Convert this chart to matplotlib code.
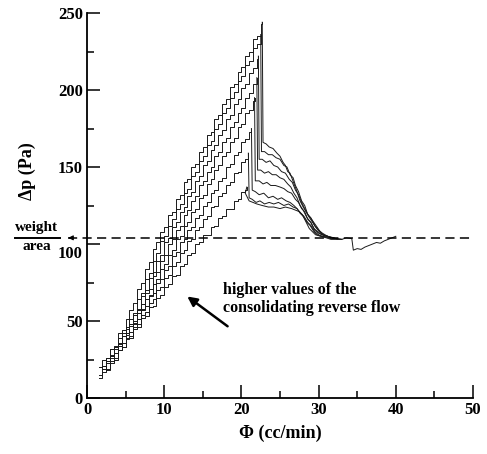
import matplotlib
matplotlib.use("Agg")
import matplotlib.pyplot as plt
from matplotlib.lines import Line2D
from matplotlib.ticker import MultipleLocator

plt.rcParams['font.family'] = ['Liberation Serif', 'DejaVu Serif']
plt.rcParams['font.weight'] = 'bold'

# ---- common flow-rate sampling of the rising branches (cc/min) ----
phi_grid = [1.5, 2.0, 2.5, 3.0, 3.5, 4.0, 4.5, 5.0, 5.5, 6.0, 6.5, 7.0, 7.5, 8.0, 8.5, 9.0,
            9.5, 10.0, 10.5, 11.0, 11.5, 12.0, 12.5, 13.0, 13.5, 14.0, 14.5, 15.0, 15.5, 16.0,
            16.5, 17.0, 17.5, 18.0, 18.5, 19.0, 19.5, 20.0, 20.5, 21.0, 21.5, 22.0, 22.5]

# ---- rising (staircase) branches: start flow and pressure values (Pa) ----
rise_A_x0 = 1.5
rise_A_y = [15, 21, 24, 32, 34, 42, 44, 51, 57, 62, 71, 75, 84, 88, 97, 101, 108, 111, 119, 121, 129, 132,
            140, 142, 150, 152, 160, 163, 171, 173, 181, 184, 191, 194, 202, 204, 212, 215, 222, 225, 233, 235, 243]
rise_B_x0 = 2.0
rise_B_y = [19, 24, 27, 33, 36, 42, 45, 51, 55, 64, 68, 77, 81, 89, 94, 102, 105, 112, 116, 123, 126,
            133, 136, 144, 147, 154, 157, 164, 167, 175, 178, 185, 188, 195, 199, 206, 209, 216, 219, 227, 230, 236]
rise_C_x0 = 1.5
rise_C_y = [20, 25, 26, 32, 33, 39, 40, 46, 48, 54, 58, 66, 70, 78, 82, 89, 93, 101, 104, 111, 114,
            121, 124, 131, 134, 141, 144, 151, 154, 161, 164, 171, 174, 181, 184, 191, 194, 201, 204, 211, 214, 220]
rise_D_x0 = 2.0
rise_D_y = [19, 24, 26, 32, 34, 40, 42, 48, 50, 57, 61, 68, 71, 79, 82, 89, 93, 100, 103, 109,
            112, 119, 122, 128, 131, 138, 141, 147, 150, 157, 160, 166, 169, 176, 179, 185, 188, 195, 198, 204]
rise_E_x0 = 2.0
rise_E_y = [21, 26, 27, 33, 34, 40, 41, 47, 48, 55, 58, 64, 67, 74, 77, 84, 87, 93, 96, 103,
            105, 112, 114, 121, 123, 130, 132, 139, 142, 148, 151, 157, 160, 166, 169, 176, 178, 185, 187, 193]
rise_F_x0 = 2.5
rise_F_y = [23, 28, 29, 35, 36, 42, 43, 49, 51, 57, 60, 66, 68, 75, 77, 83, 86, 92, 95,
            101, 103, 109, 111, 117, 119, 125, 127, 133, 135, 141, 143, 150, 152, 158, 160, 166, 168, 173]
rise_G_x0 = 2.5
rise_G_y = [18, 23, 25, 31, 33, 39, 40, 46, 48, 54, 56, 62, 64, 70, 72, 78, 80, 86, 88,
            94, 96, 102, 103, 109, 111, 116, 118, 124, 125, 131, 133, 138, 140, 146, 147, 153, 155]
rise_H_x0 = 1.5
rise_H_y = [13, 17, 19, 24, 26, 31, 33, 38, 39, 45, 46, 52, 53, 59, 60, 65, 67, 72, 74, 79,
            80, 86, 87, 93, 94, 100, 101, 106, 106, 111, 112, 117, 118, 123, 123, 128, 129, 134, 135]

# ---- peak, sudden drop and descending branches ----
fall_A_x = [22.7, 22.8, 23.2, 23.6, 24.1, 24.6, 25.0, 25.4, 25.7, 26.0, 26.3, 26.6, 26.9, 27.2, 27.6, 28.0, 28.5, 29.1, 29.8, 30.2, 30.6, 31.5]
fall_A_y = [244, 166, 165, 163, 162, 159, 157, 153, 151, 147, 146, 142, 138, 134, 128, 124, 120, 116, 111, 108, 106, 104]
fall_B_x = [22.5, 22.6, 23.0, 23.5, 24.0, 24.5, 25.0, 25.5, 25.9, 26.3, 26.7, 27.0, 27.4, 27.8, 28.2, 28.6, 29.0, 29.5, 30.0, 30.5, 31.5]
fall_B_y = [236, 160, 160, 158, 158, 156, 155, 151, 150, 145, 143, 138, 134, 128, 125, 119, 117, 112, 109, 107, 104]
fall_C_x = [22.2, 22.3, 22.7, 23.2, 23.7, 24.2, 24.7, 25.2, 25.7, 26.2, 26.6, 27.0, 27.4, 27.8, 28.2, 28.7, 29.1, 29.6, 30.1, 30.6, 32.0]
fall_C_y = [222, 155, 155, 153, 154, 151, 150, 147, 146, 142, 140, 135, 132, 127, 123, 118, 115, 111, 108, 106, 103.5]
fall_D_x = [22.0, 22.1, 22.5, 23.0, 23.5, 24.0, 24.5, 25.0, 25.5, 26.0, 26.4, 26.8, 27.2, 27.6, 28.0, 28.5, 29.0, 29.4, 29.9, 30.4, 32.0]
fall_D_y = [208, 148, 148, 146, 147, 145, 145, 143, 142, 139, 137, 133, 130, 125, 122, 117, 114, 110, 108, 106, 104]
fall_E_x = [21.7, 21.8, 22.3, 22.8, 23.3, 23.8, 24.4, 25.0, 25.5, 26.0, 26.5, 27.0, 27.4, 27.8, 28.2, 28.6, 29.0, 29.5, 30.0, 30.5, 32.5]
fall_E_y = [195, 141, 141, 139, 140, 138, 138, 137, 136, 134, 133, 129, 127, 123, 121, 116, 114, 109, 107, 106, 103]
fall_F_x = [21.3, 21.4, 21.8, 22.3, 22.9, 23.5, 24.1, 24.7, 25.2, 25.8, 26.3, 26.8, 27.2, 27.7, 28.1, 28.6, 29.0, 29.5, 30.0, 30.5, 33.0]
fall_F_y = [175, 135, 134, 132, 133, 130, 131, 129, 130, 128, 127, 125, 123, 120, 118, 114, 112, 108, 106, 105, 103]
fall_G_x = [20.9, 21.0, 21.4, 21.9, 22.4, 23.0, 23.6, 24.2, 24.8, 25.5, 26.1, 26.7, 27.2, 27.6, 28.0, 28.5, 28.9, 29.4, 29.8, 30.3, 33.0]
fall_G_y = [159, 130, 129, 127, 128, 126, 127, 126, 127, 125, 126, 124, 123, 120, 118, 114, 112, 108, 106, 105, 103]
fall_H_x = [20.7, 20.5, 20.7, 21.0, 21.5, 22.0, 22.7, 23.5, 24.2, 25.0, 25.7, 26.5, 27.0, 27.5, 27.9, 28.2, 28.5, 28.8, 29.2, 29.6,
            30.3, 31.0, 31.6, 32.2, 33.0, 33.6, 34.3, 34.5, 35.0, 35.5, 36.0, 36.5, 37.0, 37.5, 38.0, 38.5, 39.0, 39.5, 40.0]
fall_H_y = [137, 133, 131, 128, 127, 126, 125, 124, 124, 123, 124, 123, 122, 121, 119, 116, 113, 110, 108, 106,
            105, 104, 103, 103, 103, 104, 103.5, 96, 97, 96.5, 98, 99, 100, 101, 100.5, 102, 103, 104, 105]

rises = [(rise_A_x0, rise_A_y), (rise_B_x0, rise_B_y), (rise_C_x0, rise_C_y), (rise_D_x0, rise_D_y),
         (rise_E_x0, rise_E_y), (rise_F_x0, rise_F_y), (rise_G_x0, rise_G_y), (rise_H_x0, rise_H_y)]
falls = [(fall_A_x, fall_A_y), (fall_B_x, fall_B_y), (fall_C_x, fall_C_y), (fall_D_x, fall_D_y),
         (fall_E_x, fall_E_y), (fall_F_x, fall_F_y), (fall_G_x, fall_G_y), (fall_H_x, fall_H_y)]

weight_area = 104
x_ticks = [0, 10, 20, 30, 40, 50]
y_ticks = [0, 50, 100, 150, 200, 250]

fig = plt.figure(figsize=(4.87, 4.54), dpi=100)
ax = fig.add_axes([87/487, 1-398/454, (473-87)/487, (398-13)/454])

line_color = '#1a1a1a'
for (x0, ry), (fx, fy) in zip(rises, falls):
    i0 = phi_grid.index(x0)
    rx = phi_grid[i0:i0 + len(ry)] + [fx[0]]
    ry2 = list(ry) + [fy[0]]
    ax.plot(rx, ry2, drawstyle='steps-post', color=line_color, lw=0.7)
    ax.plot(fx, fy, color=line_color, lw=0.7)

# weight/area dashed line
ax.plot([-2.4, 50], [weight_area, weight_area], color='black', lw=1.1,
        dashes=(6, 3.5), clip_on=False)
ax.annotate('', xy=(-2.8, weight_area), xytext=(-1.8, weight_area),
            xycoords='data', annotation_clip=False,
            arrowprops=dict(arrowstyle='-|>', lw=0.8, color='black', mutation_scale=7))

ax.set_xlim(0, 50)
ax.set_ylim(0, 250)
ax.spines['top'].set_visible(False)
ax.spines['right'].set_visible(False)
ax.spines['left'].set_linewidth(1.3)
ax.spines['bottom'].set_linewidth(1.3)
ax.set_xticks(x_ticks)
ax.set_yticks(y_ticks)
ax.set_yticklabels(['' if v == 100 else str(v) for v in y_ticks])
ax.xaxis.set_minor_locator(MultipleLocator(5))
ax.yaxis.set_minor_locator(MultipleLocator(25))
ax.tick_params(which='major', direction='in', length=9.5, width=1.1, labelsize=12, pad=3)
ax.tick_params(which='minor', direction='in', length=5, width=1.1)
ax.annotate('100', xy=(0, 100), xycoords=('axes fraction', 'data'), xytext=(-3.5, -7),
            textcoords='offset points', ha='right', va='center', fontsize=12, fontweight='bold')

ax.set_xlabel('Φ (cc/min)', fontsize=13, fontweight='bold', labelpad=5)
ax.set_ylabel('Δp (Pa)', fontsize=13, fontweight='bold')
ax.yaxis.set_label_coords(-0.132, 0.59)

fig.text(37/487, 1-228/454, 'weight', ha='center', va='center', fontsize=11, fontweight='bold')
fig.text(37/487, 1-247/454, 'area', ha='center', va='center', fontsize=11, fontweight='bold')
fig.add_artist(Line2D([15/487, 60/487], [1-238/454, 1-238/454], transform=fig.transFigure,
                      color='black', lw=1.4))

ax.text(17.6, 75, 'higher values of the\nconsolidating reverse flow', ha='left', va='top',
        fontsize=11.5, fontweight='bold', linespacing=1.1)
ax.annotate('', xy=(12.7, 67), xytext=(18.5, 45.5),
            arrowprops=dict(arrowstyle='-|>', lw=1.8, color='black', mutation_scale=14))

fig.savefig('out.png', dpi=100)
